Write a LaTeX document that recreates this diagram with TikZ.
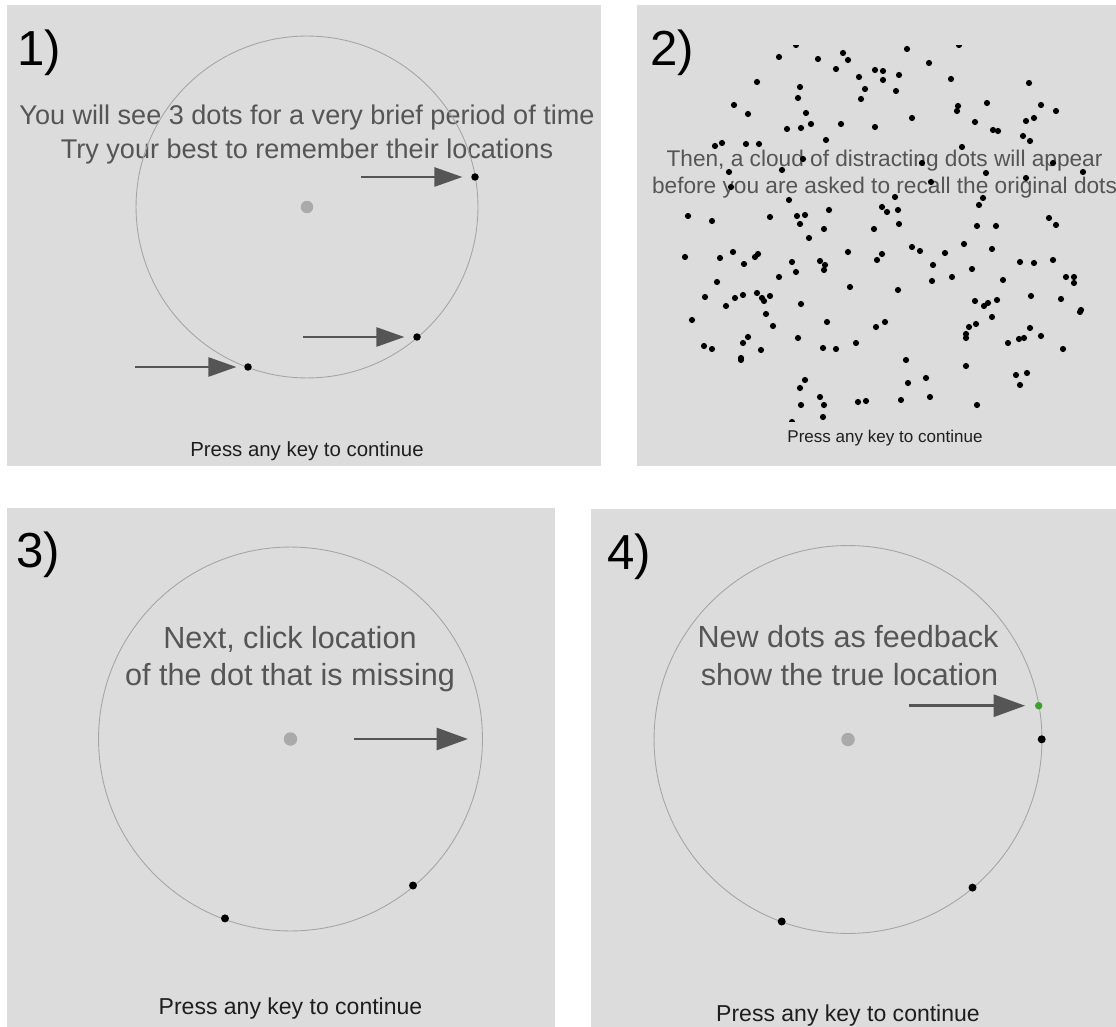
\documentclass[tikz,border=0pt]{standalone}
\usepackage{fontspec}
\setmainfont{Liberation Sans}
\usepackage{xcolor}
\definecolor{colPanel}{RGB}{220,220,220}
\definecolor{colRing}{RGB}{165,165,165}
\definecolor{colFix}{RGB}{170,170,170}
\definecolor{colMsg}{RGB}{85,85,85}
\definecolor{colPointer}{RGB}{85,85,85}
\definecolor{colPress}{RGB}{30,30,30}
\definecolor{colTrue}{RGB}{62,160,45}
\usetikzlibrary{arrows.meta, positioning}

\begin{document}
\begin{tikzpicture}[
		x=0.02cm, y=-0.02cm,
		panel/.style={fill=colPanel, draw=none},
		ring/.style={draw=colRing, line width=0.5pt},
		fixdot/.style={circle, fill=colFix, inner sep=0pt, minimum size=0.27cm},
		memdot/.style={circle, fill=black, inner sep=0pt, minimum size=0.15cm},
		truedot/.style={circle, fill=colTrue, inner sep=0pt, minimum size=0.15cm},
		pointer/.style={draw=colPointer, line width=1.7pt,
		      -{Triangle[length=0.63cm, width=0.44cm]}},
		steplabel/.style={font=\fontsize{28pt}{30pt}\selectfont, anchor=base west, inner sep=0pt},
		msg/.style={text=colMsg, anchor=base, inner sep=0pt},
		press/.style={text=colPress, anchor=base, inner sep=0pt}
	]
	\useasboundingbox (0,0) rectangle (1116,1027);

	% 1) memory array
	\fill[panel] (7,5) rectangle (601,466);
	\node[steplabel] (lab1) at (17,66) {1)};
	\node[msg, font=\fontsize{15.4pt}{18pt}\selectfont] (msg1a) at (307,125)
	     {You will see 3 dots for a very brief period of time};
	\node[msg, font=\fontsize{15.4pt}{18pt}\selectfont] (msg1b) at (307,159)
	     {Try your best to remember their locations};
	\node[fixdot, minimum size=0.25cm] (fix1) at (307,207) {};
	\draw[ring] (fix1.center) circle[radius=3.42cm];
	\node[memdot] (d1a) at (475,177) {};
	\node[memdot] (d1b) at (417,337) {};
	\node[memdot] (d1c) at (248,367) {};
	\coordinate (p1a) at (361,177);
	\coordinate (p1b) at (303,337);
	\coordinate (p1c) at (135,367);
	\draw[pointer, line width=1.5pt, -{Triangle[length=0.56cm, width=0.38cm]},
	      shorten >=0.17cm] (p1a) -- (d1a);
	\draw[pointer, line width=1.5pt, -{Triangle[length=0.56cm, width=0.38cm]},
	      shorten >=0.17cm] (p1b) -- (d1b);
	\draw[pointer, line width=1.5pt, -{Triangle[length=0.56cm, width=0.38cm]},
	      shorten >=0.15cm] (p1c) -- (d1c);
	\node[press, font=\fontsize{11.6pt}{14pt}\selectfont] (press1) at (307,456)
	     {Press any key to continue};

	% 2) distractor cloud
	\fill[panel] (637,5) rectangle (1116,466);
	\node[steplabel] (lab2) at (650,66) {2)};
	\begin{scope}
		\clip (637,5) rectangle (1116,466);
		\node[msg, font=\fontsize{12.9pt}{15pt}\selectfont] (msg2a) at (884.5,167)
		     {Then, a cloud of distracting dots will appear};
		\node[msg, font=\fontsize{12.9pt}{15pt}\selectfont] (msg2b) at (884.5,194)
		     {before you are asked to recall the original dots};
	\end{scope}
	\begin{scope}
		\clip (637,46) rectangle (1116,421);
		\foreach \px/\py in {796/45,959/45,779/57,818/59,843/53,848/60,907/49,929/63,
			836/69,875/70,883/71,899/75,859/77,951/79,1029/83,757/82,800/87,865/89,883/80,
			896/91,798/98,861/99,734/105,748/114,806/113,958/106,957/111,987/103,1041/105,
			1056/111,912/118,975/122,1026/121,1034/118,841/124,811/124,801/128,787/129,
			875/127,993/130,998/131,1023/136,1030/141,826/140,715/146,722/143,746/144,
			759/144,962/147,803/159,729/172,782/170,922/163,986/173,1053/163,1083/172,
			1026/178,931/182,731/187,789/200,895/197,983/198,979/205,688/216,712/221,770/217,
			797/216,805/215,800/224,829/210,824/229,809/238,882/207,887/212,898/210,
			899/224,874/229,977/226,996/226,1049/218,1056/225,685/257,720/258,733/252,
			744/264,755/257,758/254,792/262,796/272,820/261,825/265,824/270,848/252,
			877/260,882/254,912/247,920/251,945/253,964/244,992/249,933/265,932/281,
			952/277,972/269,1003/280,1020/262,1034/263,1053/260,1066/277,1074/277,
			1074/283,717/282,779/277,850/287,898/290,705/297,726/306,735/298,743/295,
			757/293,762/298,764/301,770/296,766/314,773/326,801/304,692/320,827/322,
			876/327,885/322,975/301,984/306,988/303,997/300,992/317,1031/296,1061/299,
			1080/312,1081/310,969/327,976/324,966/334,966/338,1030/328,1041/336,1019/339,
			1024/338,1008/343,1063/349,704/346,712/349,743/343,748/337,761/350,741/358,
			741/360,798/338,823/348,836/349,856/343,906/360,966/366,805/380,800/388,
			908/383,926/378,1016/375,1027/373,1020/385,820/397,824/405,801/405,858/402,
			866/401,901/400,930/397,977/405,823/417,792/422}
			\fill (\px,\py) circle[radius=0.062cm];
	\end{scope}
	\node[press, font=\fontsize{9.7pt}{12pt}\selectfont] (press2) at (885,442)
	     {Press any key to continue};

	% 3) recall probe
	\fill[panel] (7,508) rectangle (555,1027);
	\node[steplabel] (lab3) at (16,567) {3)};
	\node[msg, font=\fontsize{17.4pt}{21pt}\selectfont] (msg3a) at (290,648)
	     {Next, click location};
	\node[msg, font=\fontsize{17.4pt}{21pt}\selectfont] (msg3b) at (290,685)
	     {of the dot that is missing};
	\node[fixdot] (fix3) at (290.5,739) {};
	\draw[ring] (fix3.center) circle[radius=3.84cm];
	\node[memdot, minimum size=0.16cm] (d3a) at (413,885.5) {};
	\node[memdot, minimum size=0.16cm] (d3b) at (225,918.4) {};
	\coordinate (p3) at (354,739);
	\coordinate (miss3) at (468,739);
	\draw[pointer] (p3) -- (miss3);
	\node[press, font=\fontsize{13.1pt}{16pt}\selectfont] (press3) at (290.5,1014)
	     {Press any key to continue};

	% 4) feedback
	\fill[panel] (591,509) rectangle (1116,1027);
	\node[steplabel] (lab4) at (607,569) {4)};
	\node[msg, font=\fontsize{17.4pt}{21pt}\selectfont] (msg4a) at (848,647)
	     {New dots as feedback};
	\node[msg, font=\fontsize{17.4pt}{21pt}\selectfont] (msg4b) at (849.5,685)
	     {show the true location};
	\node[fixdot] (fix4) at (848,739.5) {};
	\draw[ring] (fix4.center) circle[radius=3.88cm];
	\node[truedot] (g4) at (1038.7,705.7) {};
	\node[memdot, minimum size=0.16cm] (d4a) at (1041.7,739.3) {};
	\node[memdot, minimum size=0.16cm] (d4b) at (972.5,887.6) {};
	\node[memdot, minimum size=0.16cm] (d4c) at (781.7,921.5) {};
	\coordinate (p4) at (909,705.7);
	\draw[pointer, shorten >=0.19cm] (p4) -- (g4);
	\node[press, font=\fontsize{13.1pt}{16pt}\selectfont] (press4) at (848,1021)
	     {Press any key to continue};
\end{tikzpicture}
\end{document}
